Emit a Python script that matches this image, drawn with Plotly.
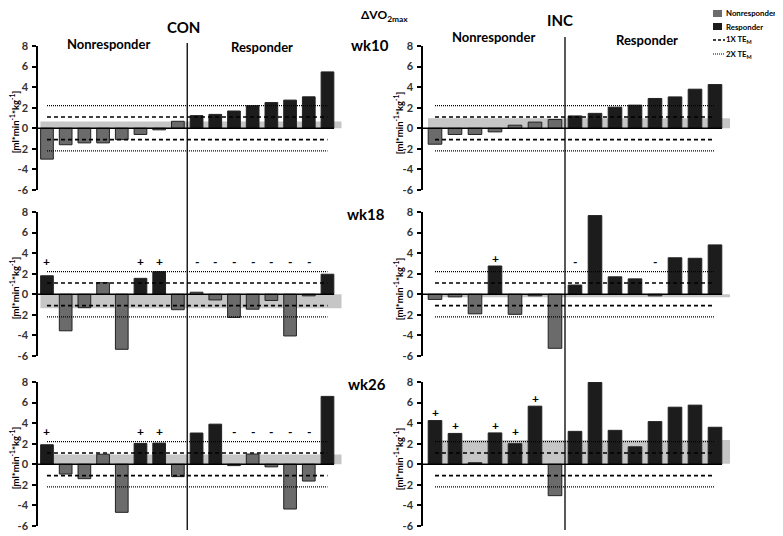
import plotly.graph_objects as go

# page body has an 8px margin: draw in reference pixel coordinates shifted by it
OX, OY = 8, 8
W, H = 783 - OX, 536 - OY

# ---------------- data ----------------
con_wk10 = [-3.0, -1.6, -1.42, -1.42, -1.1, -0.6, -0.15, 0.68, 1.23, 1.35, 1.68, 2.2, 2.5, 2.74, 3.06, 5.48]
con_wk10_grp = ["N"] * 8 + ["R"] * 8
con_wk10_mk = [""] * 16

con_wk18 = [1.8, -3.55, -1.3, 1.13, -5.35, 1.55, 2.2, -1.5, 0.2, -0.55, -2.25, -1.45, -0.6, -4.05, -0.15, 1.95]
con_wk18_grp = ["R", "N", "N", "N", "N", "R", "R", "N", "N", "N", "N", "N", "N", "N", "N", "R"]
con_wk18_mk = ["+", "", "", "", "", "+", "+", "", "-", "-", "-", "-", "-", "-", "-", ""]

con_wk26 = [1.9, -0.95, -1.4, 0.98, -4.67, 2.03, 2.06, -1.2, 3.04, 3.9, -0.13, 1.0, -0.25, -4.35, -1.63, 6.6]
con_wk26_grp = ["R", "N", "N", "N", "N", "R", "R", "N", "R", "R", "N", "N", "N", "N", "N", "R"]
con_wk26_mk = ["+", "", "", "", "", "+", "+", "", "", "", "-", "-", "-", "-", "-", ""]

inc_wk10 = [-1.55, -0.6, -0.6, -0.35, 0.3, 0.6, 0.85, 1.2, 1.45, 2.05, 2.25, 2.9, 3.05, 3.8, 4.25]
inc_wk10_grp = ["N"] * 7 + ["R"] * 8
inc_wk10_mk = [""] * 15

inc_wk18 = [-0.5, -0.25, -1.9, 2.75, -1.95, -0.15, -5.25, 0.9, 7.65, 1.7, 1.5, -0.15, 3.55, 3.5, 4.8]
inc_wk18_grp = ["N", "N", "N", "R", "N", "N", "N", "R", "R", "R", "R", "N", "R", "R", "R"]
inc_wk18_mk = ["", "", "", "+", "", "", "", "-", "", "", "", "-", "", "", ""]

inc_wk26 = [4.25, 3.0, 0.15, 3.05, 2.0, 5.65, -3.05, 3.2, 7.95, 3.3, 1.7, 4.15, 5.55, 5.75, 3.6]
inc_wk26_grp = ["R", "R", "R", "R", "R", "R", "N", "R", "R", "R", "R", "R", "R", "R", "R"]
inc_wk26_mk = ["+", "+", "", "+", "+", "+", "", "", "", "", "", "", "", "", ""]

# grey band (low, high) per panel
band_con = [(0.0, 0.65), (-1.35, 0.0), (0.0, 0.95)]
band_inc = [(0.0, 0.97), (-0.28, 0.0), (0.05, 2.35)]

TE = 1.1
y_ticks = [-6, -4, -2, 0, 2, 4, 6, 8]
y_tick_text = ["-6", "-4", "-2", "0", "2", "4", "6", "8"]
weeks = ["wk10", "wk18", "wk26"]

# ---------------- style / layout ----------------
C_N = "#6b6b6b"
C_R = "#1c1c1c"
C_BAND = "#c6c6c6"
FONT = "Lato"


def px(x):
    return (x - OX) / W


def py(y):
    return 1 - (y - OY) / H


# pixel geometry (reference coordinates)
col_x = {"CON": (38, 350), "INC": (423, 735)}
col_range = {"CON": (0.52, 0.52 + 312 / 18.7), "INC": (0.4, 0.4 + 312 / 20.0)}
row_y = [(46, 190), (212, 356), (382, 526)]

panels = [
    ("CON", 0, con_wk10, con_wk10_grp, con_wk10_mk, band_con[0]),
    ("INC", 0, inc_wk10, inc_wk10_grp, inc_wk10_mk, band_inc[0]),
    ("CON", 1, con_wk18, con_wk18_grp, con_wk18_mk, band_con[1]),
    ("INC", 1, inc_wk18, inc_wk18_grp, inc_wk18_mk, band_inc[1]),
    ("CON", 2, con_wk26, con_wk26_grp, con_wk26_mk, band_con[2]),
    ("INC", 2, inc_wk26, inc_wk26_grp, inc_wk26_mk, band_inc[2]),
]

fig = go.Figure()
shapes = []
annotations = []
layout_axes = {}

for i, (col, row, vals, grps, mks, band) in enumerate(panels):
    k = "" if i == 0 else str(i + 1)
    xa, ya = "x" + k, "y" + k
    n = len(vals)
    xs = list(range(1, n + 1))
    r0, r1 = col_range[col]
    x0p, x1p = col_x[col]
    yt, yb = row_y[row]
    layout_axes["xaxis" + k] = dict(domain=[px(x0p), px(x1p)], range=[r0, r1], visible=False,
                                    anchor=ya, fixedrange=True)
    layout_axes["yaxis" + k] = dict(domain=[py(yb), py(yt)], range=[-6, 8], anchor=xa,
                                    tickvals=y_ticks, ticktext=y_tick_text,
                                    showline=True, linecolor="black", linewidth=1.5,
                                    ticks="outside", ticklen=4, tickcolor="black", tickwidth=1.5,
                                    ticklabelstandoff=2, automargin=False,
                                    showgrid=False, zeroline=False,
                                    tickfont=dict(family=FONT, size=11, color="#333333", weight="bold"),
                                    fixedrange=True)
    colors = [C_N if g == "N" else C_R for g in grps]
    fig.add_trace(go.Bar(x=xs, y=vals, marker=dict(color=colors, line=dict(color="#222222", width=1)),
                         width=0.68, xaxis=xa, yaxis=ya, showlegend=False))
    # TE lines
    for lvl, dash, w in [(TE, "4px,3px", 1.6), (-TE, "4px,3px", 1.6),
                         (2 * TE, "1px,1px", 1.2), (-2 * TE, "1px,1px", 1.2)]:
        fig.add_trace(go.Scatter(x=[1, n], y=[lvl, lvl], mode="lines",
                                 line=dict(color="black", width=w, dash=dash),
                                 xaxis=xa, yaxis=ya, showlegend=False, hoverinfo="skip"))
    # band
    shapes.append(dict(type="rect", xref=xa, yref=ya, x0=0.65, x1=n + 0.75, y0=band[0], y1=band[1],
                       fillcolor=C_BAND, line=dict(width=0), layer="below"))
    # zero line
    shapes.append(dict(type="line", xref=xa, yref=ya, x0=r0, x1=n + 0.35, y0=0, y1=0,
                       line=dict(color="black", width=1.5)))
    # markers
    for xv, v, m in zip(xs, vals, mks):
        if m:
            annotations.append(dict(x=xv, y=max(v + 0.75, 3.2), xref=xa, yref=ya, text=m,
                                    showarrow=False, font=dict(family=FONT, size=12, color="black",
                                                               weight="bold")))
    # y-axis title
    tx = 14 if col == "CON" else 398
    zero_y = yt + (yb - yt) * 8 / 14
    annotations.append(dict(x=px(tx), y=py(zero_y - 6), xref="paper", yref="paper",
                            xanchor="center", yanchor="middle",
                            text="[ml*min<sup>-1</sup>*kg<sup>-1</sup>]", textangle=-90,
                            showarrow=False, font=dict(family=FONT, size=9.5, color="black", weight="bold")))

# divider lines
shapes.append(dict(type="line", xref="x", yref="paper", x0=8.5, x1=8.5, y0=py(530), y1=py(43),
                   line=dict(color="black", width=1.3)))
shapes.append(dict(type="line", xref="x2", yref="paper", x0=7.5, x1=7.5, y0=py(530), y1=py(37),
                   line=dict(color="black", width=1.3)))


def label(text, x, y, size, anchor="center"):
    annotations.append(dict(x=px(x), y=py(y), xref="paper", yref="paper", text=text, showarrow=False,
                            xanchor=anchor, yanchor="middle", borderpad=0,
                            font=dict(family=FONT, size=size, color="black", weight="bold")))


label("ΔVO<sub>2max</sub>", 384, 16, 12)
label("CON", 183, 27, 15)
label("INC", 560, 20, 15)
label("Nonresponder", 108, 44, 13)
label("Responder", 262, 47, 13)
label("Nonresponder", 493, 37, 13)
label("Responder", 647, 40, 13)
label(weeks[0], 370, 45, 15)
label(weeks[1], 366, 214, 15)
label(weeks[2], 367, 384, 15)

# legend (manual)
shapes.append(dict(type="rect", xref="paper", yref="paper", x0=px(713), x1=px(722), y0=py(17), y1=py(10),
                   fillcolor=C_N, line=dict(width=0)))
shapes.append(dict(type="rect", xref="paper", yref="paper", x0=px(713), x1=px(722), y0=py(30), y1=py(23),
                   fillcolor=C_R, line=dict(width=0)))
shapes.append(dict(type="line", xref="paper", yref="paper", x0=px(713), x1=px(725), y0=py(40), y1=py(40),
                   line=dict(color="black", width=1.3, dash="3px,2px")))
shapes.append(dict(type="line", xref="paper", yref="paper", x0=px(713), x1=px(725), y0=py(54), y1=py(54),
                   line=dict(color="black", width=1, dash="1px,1px")))
label("Nonresponder", 725, 13, 7.8, "left")
label("Responder", 725, 27, 7.8, "left")
label("1X TE<sub>M</sub>", 725, 40, 7.8, "left")
label("2X TE<sub>M</sub>", 725, 54, 7.8, "left")

fig.update_layout(width=W, height=H, margin=dict(l=0, r=0, t=0, b=0),
                  paper_bgcolor="white", plot_bgcolor="rgba(0,0,0,0)",
                  barmode="overlay", shapes=shapes, annotations=annotations,
                  font=dict(family=FONT), **layout_axes)

fig.write_html("out.html")
